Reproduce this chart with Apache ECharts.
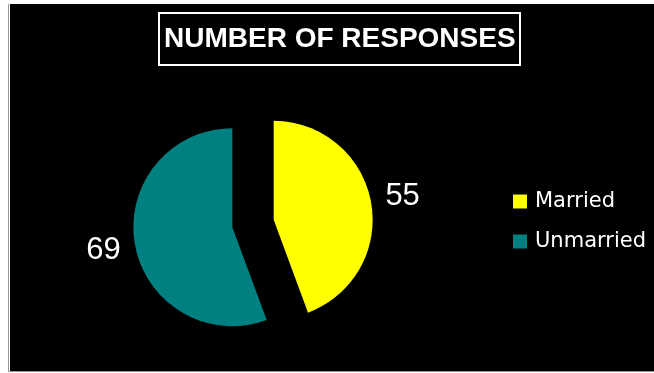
<!DOCTYPE html>
<html>
<head>
<meta charset="utf-8">
<script src="https://cdn.jsdelivr.net/npm/echarts@6/dist/echarts.min.js"></script>
<style>
  html, body { margin: 0; padding: 0; background: #ffffff; }
  #frame { position: absolute; left: 8px; top: 4px; width: 646px; height: 368px;
           border-left: 1px solid #999; border-bottom: 1px solid #999; box-sizing: border-box; }
  #chart { position: absolute; left: 1px; top: 0; width: 645px; height: 367px; }
</style>
</head>
<body>
<div id="frame"><div id="chart"></div></div>
<script>
const titleText = 'NUMBER OF RESPONSES';
const categories = ['Married', 'Unmarried'];
const values = [55, 69];
const sliceColors = ['#FFFF00', '#008080'];

const chart = echarts.init(document.getElementById('chart'), null, { renderer: 'canvas' });

const pieData = categories.map((name, i) => ({
  name: name,
  value: values[i],
  selected: true,
  itemStyle: { color: sliceColors[i] }
}));

const labelData = categories.map((name, i) => ({
  name: name,
  value: values[i]
}));

chart.setOption({
  backgroundColor: '#000000',
  animation: false,
  title: {
    text: titleText,
    left: 149,
    top: 9,
    padding: [12, 5],
    borderColor: '#ffffff',
    borderWidth: 2,
    textStyle: {
      color: '#ffffff',
      fontFamily: 'Liberation Sans',
      fontWeight: 'bold',
      fontSize: 28
    }
  },
  legend: {
    orient: 'vertical',
    left: 498,
    top: 182,
    data: categories,
    icon: 'rect',
    itemWidth: 14,
    itemHeight: 14,
    itemGap: 19,
    selectedMode: false,
    textStyle: {
      color: '#ffffff',
      fontFamily: 'DejaVu Sans',
      fontSize: 21,
      lineHeight: 21,
      padding: [0, 0, 0, 3]
    }
  },
  series: [
    {
      name: 'Responses',
      type: 'pie',
      center: [243, 219.5],
      radius: 99,
      startAngle: 90,
      clockwise: true,
      selectedMode: 'multiple',
      selectedOffset: 21,
      label: { show: false },
      labelLine: { show: false },
      emphasis: { disabled: true },
      data: pieData
    },
    {
      name: 'Labels',
      type: 'pie',
      center: [243, 219.5],
      radius: [139, 159],
      startAngle: 90,
      clockwise: true,
      silent: true,
      legendHoverLink: false,
      itemStyle: { color: 'rgba(0,0,0,0)' },
      label: {
        show: true,
        position: 'inside',
        formatter: '{c}',
        color: '#ffffff',
        fontFamily: 'Liberation Sans',
        fontSize: 31
      },
      labelLine: { show: false },
      emphasis: { disabled: true },
      data: labelData
    }
  ]
});
</script>
</body>
</html>
